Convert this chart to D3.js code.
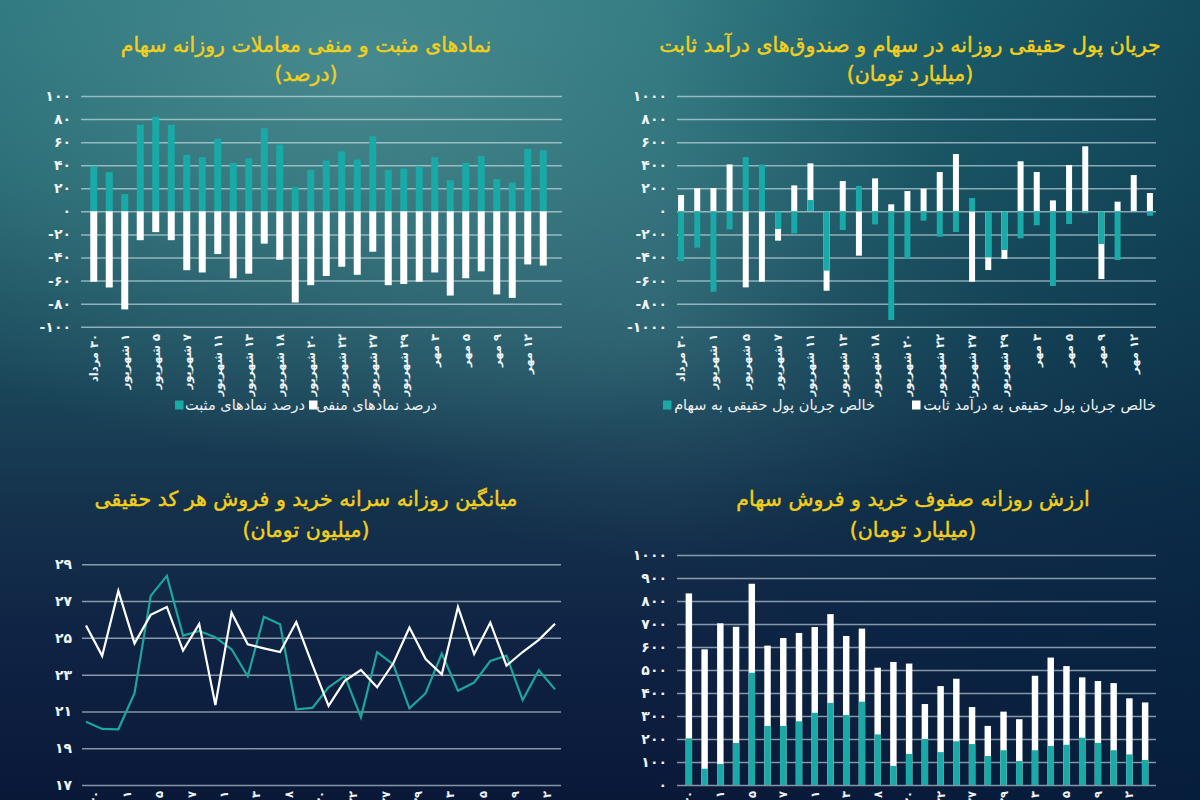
<!DOCTYPE html>
<html><head><meta charset="utf-8">
<script src="https://cdn.jsdelivr.net/npm/d3@7"></script>
<style>
html,body{margin:0;padding:0;background:#0d2a44;}
svg{display:block;font-family:"DejaVu Sans",sans-serif;}
</style></head>
<body>
<script>
// ---------- DATA ----------
const categories = ['۳۰ مرداد','۳۱ مرداد','۱ شهریور','۴ شهریور','۵ شهریور','۶ شهریور','۷ شهریور','۸ شهریور','۱۱ شهریور','۱۲ شهریور','۱۳ شهریور','۱۴ شهریور','۱۸ شهریور','۱۹ شهریور','۲۰ شهریور','۲۱ شهریور','۲۲ شهریور','۲۶ شهریور','۲۷ شهریور','۲۸ شهریور','۲۹ شهریور','۱ مهر','۳ مهر','۴ مهر','۵ مهر','۸ مهر','۹ مهر','۱۱ مهر','۱۲ مهر','۱۵ مهر'];
const labelCategories = categories.filter((c,i)=>i%2===0);

// chart 1: positive / negative symbols (%)
const positivePct = [39,34,15,75,82,75,49,47,63,42,46,72,58,21,36,44,52,45,65,36,37,39,47,27,42,48,28,25,54,53];
const negativePct = [-61,-66,-85,-25,-18,-25,-51,-53,-37,-58,-54,-28,-42,-79,-64,-56,-48,-55,-35,-64,-63,-61,-53,-73,-58,-52,-72,-75,-46,-47];
const pctTicks = [-100,-80,-60,-40,-20,0,20,40,60,80,100];

// chart 2: real money flow (billion toman)
const stockFlow = [-431,-315,-697,-156,471,407,-153,-191,98,-514,-162,220,-113,-942,-408,-81,-220,-179,116,-399,-335,-234,-121,-647,-110,-17,-283,-422,4,-38];
const fixedIncomeFlow = [142,200,202,407,-659,-610,-254,225,416,-688,263,-384,286,61,176,197,341,497,-610,-509,-413,434,341,95,402,564,-587,84,315,159];
const flowTicks = [-1000,-800,-600,-400,-200,0,200,400,600,800,1000];

// chart 3: per-capita buy / sell (million toman)
const perCapitaBuy = [25.67,24.02,27.55,24.70,26.25,26.68,24.31,25.76,21.35,26.37,24.65,24.43,24.23,25.86,23.53,21.30,22.66,23.25,22.31,23.62,25.56,23.85,23.02,26.68,24.12,25.83,23.49,24.23,24.89,25.77];
const perCapitaSell = [20.44,20.05,20.03,21.99,27.28,28.37,25.12,25.37,25.03,24.38,22.91,26.15,25.74,21.12,21.19,22.31,22.93,20.68,24.23,23.56,21.17,21.99,24.14,22.13,22.57,23.74,24.03,21.62,23.24,22.20];
const perCapitaTicks = [17,19,21,23,25,27,29];

// chart 4: queues (billion toman)
const queueTotal = [833,590,703,688,875,606,639,661,687,743,648,680,510,535,528,352,430,462,339,257,319,286,475,554,517,468,452,443,377,359];
const queueBuy = [203,71,91,183,488,257,257,277,314,357,304,362,220,83,135,200,143,190,178,126,151,104,151,170,175,206,183,151,133,109];
const queueTicks = [0,100,200,300,400,500,600,700,800,900,1000];

const titles = [
  ['نمادهای مثبت و منفی معاملات روزانه سهام','(درصد)'],
  ['جریان پول حقیقی روزانه در سهام و صندوق‌های درآمد ثابت','(میلیارد تومان)'],
  ['میانگین روزانه سرانه خرید و فروش هر کد حقیقی','(میلیون تومان)'],
  ['ارزش روزانه صفوف خرید و فروش سهام','(میلیارد تومان)']
];
const legend1 = ['درصد نمادهای مثبت','درصد نمادهای منفی'];
const legend2 = ['خالص جریان پول حقیقی به سهام','خالص جریان پول حقیقی به درآمد ثابت'];

// ---------- STYLE ----------
const TEAL = '#19aaa7', LINE_TEAL = '#1ea59c', WHITE = '#ffffff', YELLOW = '#f2cf1c', TXT = '#eef3f5';
const GRID = 'rgba(215,232,238,0.6)';
const fa = s => String(s).replace(/[0-9]/g, d => '۰۱۲۳۴۵۶۷۸۹'[d]);

const svg = d3.select('body').append('svg').attr('width',1200).attr('height',800);
const defs = svg.append('defs');
const bg = defs.append('linearGradient').attr('id','bg').attr('x1',0).attr('y1',0).attr('x2',0).attr('y2',1);
[[0,'#24717a'],[0.22,'#21646f'],[0.45,'#1b4a5c'],[0.62,'#15334d'],[0.8,'#0f2344'],[1,'#0a1838']].forEach(s=>bg.append('stop').attr('offset',s[0]).attr('stop-color',s[1]));
const g1 = defs.append('radialGradient').attr('id','glow').attr('cx',0.3).attr('cy',0.08).attr('r',0.5);
g1.append('stop').attr('offset',0).attr('stop-color','#5f9c9c').attr('stop-opacity',0.6);
g1.append('stop').attr('offset',1).attr('stop-color','#5f9c9c').attr('stop-opacity',0);
const g2 = defs.append('radialGradient').attr('id','glow2').attr('cx',0.55).attr('cy',0.4).attr('r',0.3);
g2.append('stop').attr('offset',0).attr('stop-color','#4f8a95').attr('stop-opacity',0.3);
g2.append('stop').attr('offset',1).attr('stop-color','#4f8a95').attr('stop-opacity',0);
const rs = defs.append('linearGradient').attr('id','rshade').attr('x1',0).attr('y1',0).attr('x2',1).attr('y2',0);
rs.append('stop').attr('offset',0.55).attr('stop-color','#02243f').attr('stop-opacity',0);
rs.append('stop').attr('offset',1).attr('stop-color','#02243f').attr('stop-opacity',0.5);
svg.append('rect').attr('width',1200).attr('height',800).attr('fill','url(#bg)');
svg.append('rect').attr('width',1200).attr('height',800).attr('fill','url(#glow)');
svg.append('rect').attr('width',1200).attr('height',800).attr('fill','url(#glow2)');
svg.append('rect').attr('width',1200).attr('height',800).attr('fill','url(#rshade)');

function title(t, cx, y1, y2){
  svg.append('text').attr('x',cx).attr('y',y1).attr('direction','rtl').attr('text-anchor','middle')
    .attr('fill',YELLOW).attr('stroke',YELLOW).attr('stroke-width',0.45).style('font-size','20.5px').text(t[0]);
  svg.append('text').attr('x',cx).attr('y',y2).attr('direction','rtl').attr('text-anchor','middle')
    .attr('fill',YELLOW).attr('stroke',YELLOW).attr('stroke-width',0.45).style('font-size','20.5px').text(t[1]);
}

function yAxis(scale, ticks, x0, x1){
  const g = svg.append('g').attr('transform',`translate(${x0},0)`)
    .call(d3.axisLeft(scale).tickValues(ticks).tickSize(-(x1-x0)).tickPadding(10).tickFormat(fa));
  g.select('.domain').remove();
  g.selectAll('.tick line').attr('stroke',GRID).attr('stroke-width',1.5);
  g.selectAll('.tick text').attr('fill',TXT).style('font-size','14px').style('font-weight','bold').style('font-family','DejaVu Sans');
  return g;
}

function xLabels(scale, y, offset){
  const g = svg.append('g').attr('transform',`translate(${offset||0},${y})`)
    .call(d3.axisBottom(scale).tickValues(labelCategories).tickSize(0));
  g.select('.domain').remove();
  g.selectAll('.tick text').attr('x',0).attr('y',0).attr('dy','0.35em')
    .attr('transform','rotate(-90)').attr('direction','rtl').style('text-anchor','start')
    .attr('fill',TXT).style('font-size','11.5px').style('font-weight','bold').style('font-family','DejaVu Sans');
}

function legendItem(label, color, rightX, y, sqX){
  svg.append('rect').attr('x',sqX).attr('y',y-4.5).attr('width',8.5).attr('height',9).attr('fill',color);
  svg.append('text').attr('x',rightX).attr('y',y).attr('dy','0.35em').attr('direction','rtl').attr('text-anchor','start')
    .attr('fill',TXT).style('font-size','14.5px').text(label);
}

// ---------- CHART 1 ----------
{
  const x = d3.scaleBand().domain(categories).range([86,551]).paddingInner(0.55).paddingOuter(0.275);
  const y = d3.scaleLinear().domain([-100,100]).range([326.7,96]);
  title(titles[0], 306, 52, 81);
  yAxis(y, pctTicks, 81, 562);
  svg.append('g').selectAll('rect.p').data(positivePct).join('rect')
    .attr('x',(d,i)=>x(categories[i])).attr('width',x.bandwidth())
    .attr('y',d=>y(d)).attr('height',d=>y(0)-y(d)).attr('fill',TEAL);
  svg.append('g').selectAll('rect.n').data(negativePct).join('rect')
    .attr('x',(d,i)=>x(categories[i])).attr('width',x.bandwidth())
    .attr('y',y(0)).attr('height',d=>y(d)-y(0)).attr('fill',WHITE);
  xLabels(x, 334);
  legendItem(legend1[0], TEAL, 305, 405, 175);
  legendItem(legend1[1], WHITE, 437, 405, 309);
}

// ---------- CHART 2 ----------
{
  const x = d3.scaleBand().domain(categories).range([673,1158]).paddingInner(0.63).paddingOuter(0.315);
  const y = d3.scaleLinear().domain([-1000,1000]).range([326.7,96]);
  title(titles[1], 910, 52, 81);
  yAxis(y, flowTicks, 677, 1156);
  svg.append('g').selectAll('rect').data(fixedIncomeFlow).join('rect')
    .attr('x',(d,i)=>x(categories[i])).attr('width',x.bandwidth())
    .attr('y',d=>y(Math.max(0,d))).attr('height',d=>Math.abs(y(d)-y(0))).attr('fill',WHITE);
  svg.append('g').selectAll('rect').data(stockFlow).join('rect')
    .attr('x',(d,i)=>x(categories[i])).attr('width',x.bandwidth())
    .attr('y',d=>y(Math.max(0,d))).attr('height',d=>Math.abs(y(d)-y(0))).attr('fill',TEAL);
  xLabels(x, 334);
  legendItem(legend2[0], TEAL, 875, 405, 663);
  legendItem(legend2[1], WHITE, 1156, 405, 912);
}

// ---------- CHART 3 ----------
{
  const x = d3.scalePoint().domain(categories).range([86,555]);
  const y = d3.scaleLinear().domain([17,29]).range([785,564.3]);
  title(titles[2], 306, 506, 537);
  yAxis(y, perCapitaTicks, 82, 561);
  const line = d3.line().x((d,i)=>x(categories[i])).y(d=>y(d));
  svg.append('path').datum(perCapitaSell).attr('d',line).attr('fill','none').attr('stroke',LINE_TEAL).attr('stroke-width',2.2);
  svg.append('path').datum(perCapitaBuy).attr('d',line).attr('fill','none').attr('stroke',WHITE).attr('stroke-width',2.2);
  xLabels(x, 791, 8);
}

// ---------- CHART 4 ----------
{
  const x = d3.scaleBand().domain(categories).range([681,1153]).paddingInner(0.59).paddingOuter(0.295);
  const y = d3.scaleLinear().domain([0,1000]).range([785,555]);
  title(titles[3], 913, 506, 537);
  yAxis(y, queueTicks, 677, 1156);
  svg.append('g').selectAll('rect').data(queueTotal).join('rect')
    .attr('x',(d,i)=>x(categories[i])).attr('width',x.bandwidth())
    .attr('y',d=>y(d)).attr('height',d=>y(0)-y(d)).attr('fill',WHITE);
  svg.append('g').selectAll('rect').data(queueBuy).join('rect')
    .attr('x',(d,i)=>x(categories[i])).attr('width',x.bandwidth())
    .attr('y',d=>y(d)).attr('height',d=>y(0)-y(d)).attr('fill',TEAL);
  xLabels(x, 791);
}
</script>
</body></html>
